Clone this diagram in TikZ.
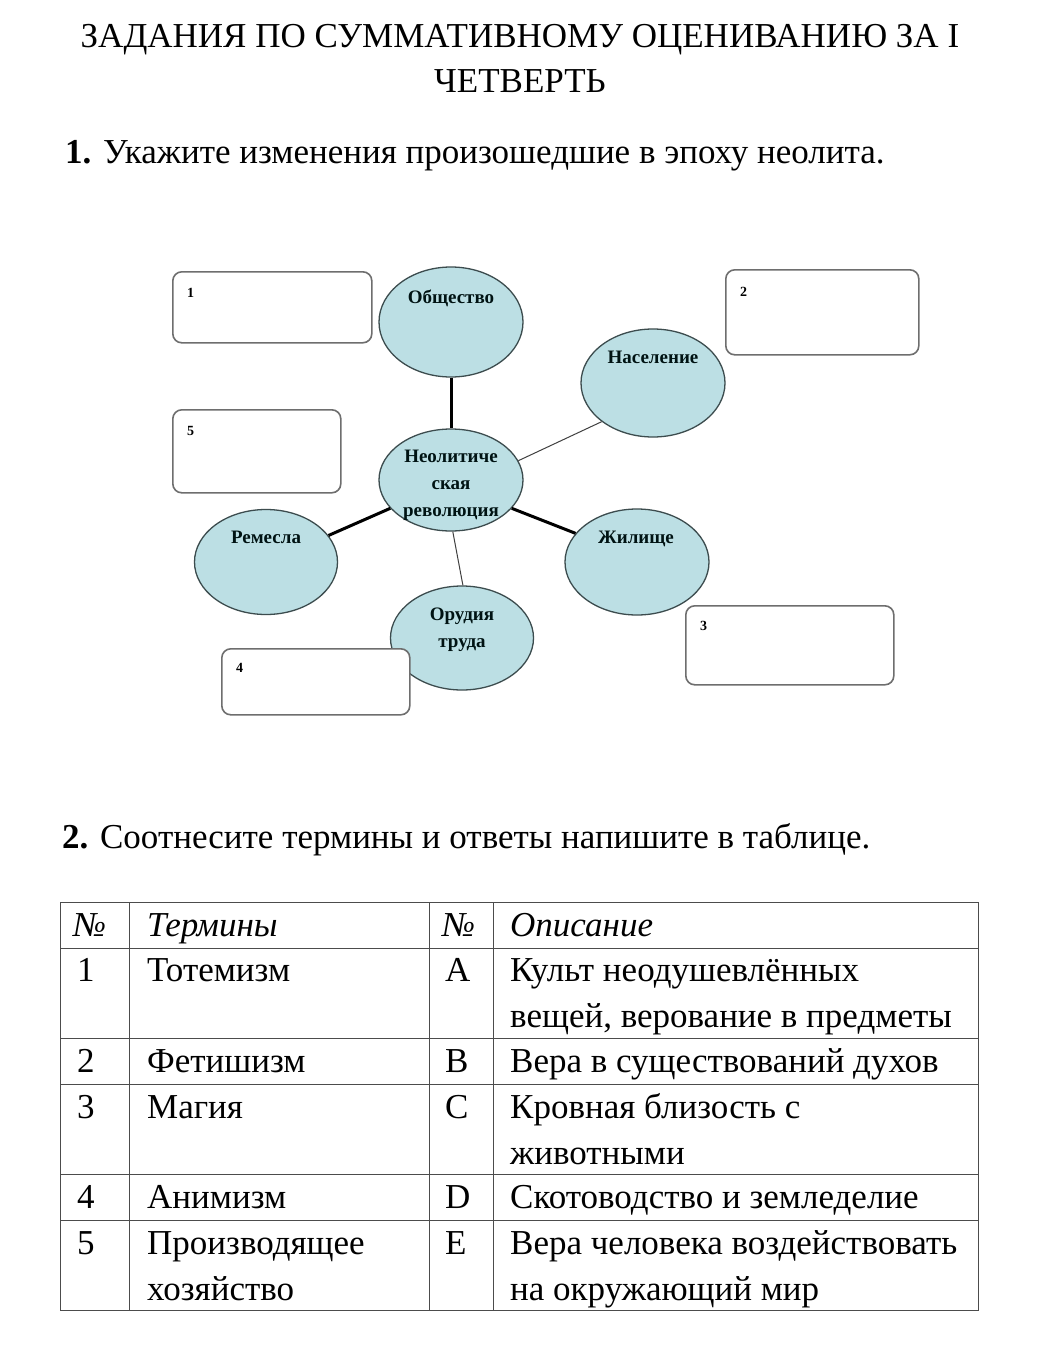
\documentclass[tikz,border=0pt]{standalone}
\usepackage{fontspec}
\setmainfont{Liberation Serif}
\usetikzlibrary{shapes.geometric}
\definecolor{elfill}{HTML}{BCDFE4}
\definecolor{eldraw}{HTML}{3C4C4E}
\definecolor{boxdraw}{HTML}{6E6E6E}
\begin{document}
\begin{tikzpicture}[x=1pt,y=-1pt,
  bubble/.style={ellipse, draw=eldraw, fill=elfill, line width=1.3pt, inner sep=0pt},
  bubtext/.style={font=\fontsize{19}{27}\selectfont\bfseries, text=black!85!teal, anchor=base, inner sep=0pt},
  ansbox/.style={draw=boxdraw, rounded corners=9pt, line width=1.6pt, fill=white, anchor=north west},
  boxnum/.style={font=\fontsize{14}{16}\selectfont\bfseries, anchor=base west, inner sep=0pt},
  thickline/.style={line width=3pt},
  thinline/.style={line width=1pt, draw=black!75},
  titletxt/.style={font=\fontsize{35}{42}\selectfont, anchor=base, inner sep=0pt},
  txt/.style={font=\fontsize{35}{42}\selectfont, anchor=base west, inner sep=0pt},
  cell/.style={font=\fontsize{35}{42}\selectfont, anchor=base west, inner sep=0pt},
  hcell/.style={font=\fontsize{35}{42}\selectfont\itshape, anchor=base west, inner sep=0pt},
  gridline/.style={line width=0.9pt, draw=black!70}]

\useasboundingbox[fill=white] (0,0) rectangle (1060,1357);

% title
\node[titletxt] (t1) at (520,47) {ЗАДАНИЯ ПО СУММАТИВНОМУ ОЦЕНИВАНИЮ ЗА I};
\node[titletxt] (t2) at (520,92) {ЧЕТВЕРТЬ};
\node[txt] (q1) at (65,163) {\textbf{1.} Укажите изменения произошедшие в эпоху неолита.};

% bubbles
\node[bubble, minimum width=144pt, minimum height=110pt] (obs) at (451,322) {};
\node[bubble, minimum width=144pt, minimum height=108pt] (nas) at (653,383) {};
\node[bubble, minimum width=144pt, minimum height=102pt] (neo) at (451,480) {};
\node[bubble, minimum width=143pt, minimum height=105pt] (rem) at (266,562) {};
\node[bubble, minimum width=144pt, minimum height=106pt] (zh) at (637,562) {};
\node[bubble, minimum width=143pt, minimum height=104pt] (ord) at (462,638) {};

\node[bubtext] (obs-t) at (451,303) {Общество};
\node[bubtext] (nas-t) at (653,363) {Население};
\node[bubtext] (neo-t1) at (451,462) {Неолитиче};
\node[bubtext] (neo-t2) at (451,489) {ская};
\node[bubtext] (neo-t3) at (451,516) {революция};
\node[bubtext] (rem-t) at (266,543) {Ремесла};
\node[bubtext] (zh-t) at (636,543) {Жилище};
\node[bubtext] (ord-t1) at (462,620) {Орудия};
\node[bubtext] (ord-t2) at (462,647) {труда};

% connectors
\draw[thickline] (obs) -- (neo);
\draw[thinline] (neo.16) -- (nas.217);
\draw[thickline] (neo.205) -- (rem.23);
\draw[thickline] (neo.-25) -- (zh.155);
\draw[thinline] (neo.272) -- (ord.89);

% answer boxes
\node[ansbox, minimum width=199pt, minimum height=71pt] (b1) at (172,271) {};
\node[boxnum] (b1-n) at (187,297) {1};
\node[ansbox, minimum width=193pt, minimum height=85pt] (b2) at (725,269) {};
\node[boxnum] (b2-n) at (740,296) {2};
\node[ansbox, minimum width=168pt, minimum height=83pt] (b5) at (172,409) {};
\node[boxnum] (b5-n) at (187,435) {5};
\node[ansbox, minimum width=208pt, minimum height=79pt] (b3) at (685,605) {};
\node[boxnum] (b3-n) at (700,630) {3};
\node[ansbox, minimum width=188pt, minimum height=66pt] (b4) at (221,648) {};
\node[boxnum] (b4-n) at (236,672) {4};

% question 2
\node[txt] (q2) at (62,848) {\textbf{2.} Соотнесите термины и ответы напишите в таблице.};

% table grid
\draw[gridline] (60,902) rectangle (978,1310);
\foreach \xx in {129,429,493} \draw[gridline] (\xx,902) -- (\xx,1310);
\foreach \yy in {948,1038,1084,1174,1220} \draw[gridline] (60,\yy) -- (978,\yy);

% header
\node[hcell] at (73,936) {№};
\node[hcell] at (147,936) {Термины};
\node[hcell] at (442,936) {№};
\node[hcell] at (510,936) {Описание};
% rows
\node[cell] at (77,981) {1};
\node[cell] at (147,981) {Тотемизм};
\node[cell] at (445,981) {А};
\node[cell] at (510,981) {Культ неодушевлённых};
\node[cell] at (510,1027) {вещей, верование в предметы};
\node[cell] at (77,1072) {2};
\node[cell] at (147,1072) {Фетишизм};
\node[cell] at (445,1072) {В};
\node[cell] at (510,1072) {Вера в существований духов};
\node[cell] at (77,1118) {3};
\node[cell] at (147,1118) {Магия};
\node[cell] at (445,1118) {С};
\node[cell] at (510,1118) {Кровная близость с};
\node[cell] at (510,1164) {животными};
\node[cell] at (77,1208) {4};
\node[cell] at (147,1208) {Анимизм};
\node[cell] at (445,1208) {D};
\node[cell] at (510,1208) {Скотоводство и земледелие};
\node[cell] at (77,1254) {5};
\node[cell] at (147,1254) {Производящее};
\node[cell] at (445,1254) {Е};
\node[cell] at (510,1254) {Вера человека воздействовать};
\node[cell] at (147,1300) {хозяйство};
\node[cell] at (510,1300) {на окружающий мир};
\end{tikzpicture}
\end{document}
